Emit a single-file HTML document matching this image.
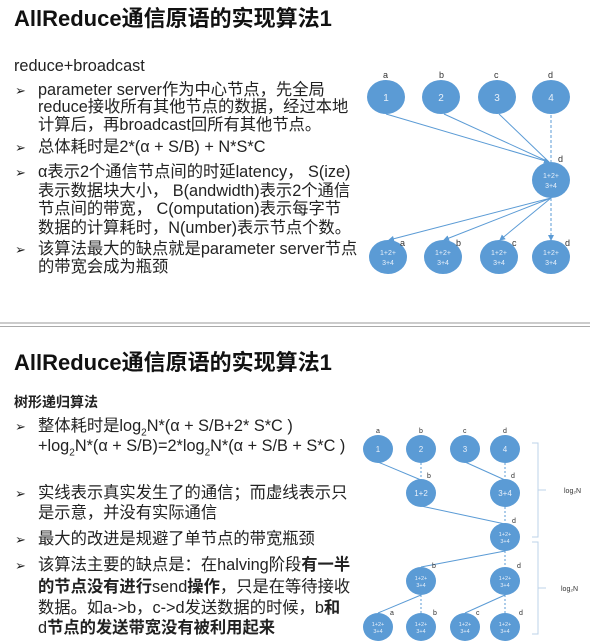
<!DOCTYPE html>
<html><head><meta charset="utf-8"><style>
body{margin:0;width:590px;height:641px;background:#fff;position:relative;overflow:hidden;font-family:"Liberation Sans","Noto Sans CJK SC",sans-serif;color:#222}
.t{position:absolute;white-space:nowrap;line-height:1;}
.h{font-size:22px;font-weight:bold;color:#111}
.l{font-size:16.3px;}
.a{position:absolute;font-size:13px;}
b{font-weight:bold}
sub{line-height:0}
svg{position:absolute;left:0;top:0}
</style></head><body>
<div class="t h" style="left:14px;top:8px">AllReduce通信原语的实现算法1</div>
<div class="t l" style="left:14px;top:58px">reduce+broadcast</div>
<div class="a" style="left:15px;top:83px">➢</div><div class="t l" style="left:38px;top:82px">parameter server作为中心节点，先全局</div>
<div class="t l" style="left:38px;top:99px">reduce接收所有其他节点的数据，经过本地</div>
<div class="t l" style="left:38px;top:117px">计算后，再broadcast回所有其他节点。</div>
<div class="a" style="left:15px;top:140px">➢</div><div class="t l" style="left:38px;top:139px">总体耗时是2*(α + S/B) + N*S*C</div>
<div class="a" style="left:15px;top:165px">➢</div><div class="t l" style="left:38px;top:164px">α表示2个通信节点间的时延latency， S(ize)</div>
<div class="t l" style="left:38px;top:183px">表示数据块大小， B(andwidth)表示2个通信</div>
<div class="t l" style="left:38px;top:201px">节点间的带宽， C(omputation)表示每字节</div>
<div class="t l" style="left:38px;top:220px">数据的计算耗时，N(umber)表示节点个数。</div>
<div class="a" style="left:15px;top:242px">➢</div><div class="t l" style="left:38px;top:241px">该算法最大的缺点就是parameter server节点</div>
<div class="t l" style="left:38px;top:259px">的带宽会成为瓶颈</div>

<div style="position:absolute;left:0;top:322px;width:590px;height:2px;background:#ccc"></div>
<div style="position:absolute;left:0;top:326px;width:590px;height:1px;background:#aaa"></div>

<div class="t h" style="left:14px;top:352px">AllReduce通信原语的实现算法1</div>
<div class="t" style="left:14px;top:395px;font-size:14px;font-weight:bold">树形递归算法</div>
<div class="a" style="left:15px;top:419px">➢</div><div class="t l" style="left:38px;top:418px">整体耗时是log<sub style="font-size:10px">2</sub>N*(α + S/B+2* S*C )</div>
<div class="t l" style="left:38px;top:438px">+log<sub style="font-size:10px">2</sub>N*(α + S/B)=2*log<sub style="font-size:10px">2</sub>N*(α + S/B + S*C )</div>
<div class="a" style="left:15px;top:486px">➢</div><div class="t l" style="left:38px;top:485px">实线表示真实发生了的通信；而虚线表示只</div>
<div class="t l" style="left:38px;top:505px">是示意，并没有实际通信</div>
<div class="a" style="left:15px;top:532px">➢</div><div class="t l" style="left:38px;top:531px">最大的改进是规避了单节点的带宽瓶颈</div>
<div class="a" style="left:15px;top:558px">➢</div><div class="t l" style="left:38px;top:557px">该算法主要的缺点是：在halving阶段<b>有一半</b></div>
<div class="t l" style="left:38px;top:579px"><b>的节点没有进行</b>send<b>操作</b>，只是在等待接收</div>
<div class="t l" style="left:38px;top:600px">数据。如a-&gt;b，c-&gt;d发送数据的时候，b<b>和</b></div>
<div class="t l" style="left:38px;top:620px">d<b>节点的发送带宽没有被利用起来</b></div>

<svg width="590" height="641" font-family="Liberation Sans,sans-serif">
<defs><marker id="ar" markerWidth="6" markerHeight="6" refX="5" refY="3" orient="auto"><path d="M0,0L6,3L0,6z" fill="#5b9bd5"/></marker></defs>
<g stroke="#5b9bd5" stroke-width="1" fill="none">
<line x1="386" y1="114" x2="549" y2="162" marker-end="url(#ar)"/>
<line x1="444" y1="114" x2="549" y2="162"/>
<line x1="499" y1="114" x2="549" y2="162"/>
<line x1="551" y1="115" x2="551" y2="162" stroke-dasharray="3,2"/>
<line x1="551" y1="198" x2="389" y2="240" marker-end="url(#ar)"/>
<line x1="551" y1="198" x2="444" y2="240" marker-end="url(#ar)"/>
<line x1="551" y1="198" x2="500" y2="240" marker-end="url(#ar)"/>
<line x1="551" y1="198" x2="551" y2="240" stroke-dasharray="3,2" marker-end="url(#ar)"/>
<line x1="378" y1="462" x2="421" y2="480"/>
<line x1="421" y1="463" x2="421" y2="480" stroke-dasharray="2,2"/>
<line x1="465" y1="462" x2="505" y2="480"/>
<line x1="505" y1="463" x2="505" y2="480" stroke-dasharray="2,2"/>
<line x1="421" y1="506" x2="505" y2="524"/>
<line x1="505" y1="507" x2="505" y2="524" stroke-dasharray="2,2"/>
<line x1="505" y1="551" x2="421" y2="567"/>
<line x1="505" y1="551" x2="505" y2="567" stroke-dasharray="2,2"/>
<line x1="421" y1="595" x2="378" y2="613"/>
<line x1="421" y1="595" x2="421" y2="613" stroke-dasharray="2,2"/>
<line x1="505" y1="595" x2="465" y2="613"/>
<line x1="505" y1="595" x2="505" y2="613" stroke-dasharray="2,2"/>
</g>
<g stroke="#bcd3ea" fill="none">
<path d="M532,443 H538 V537 H532 M538,490 H546"/>
<path d="M532,542 H538 V634 H532 M538,588 H546"/>
</g>
<g fill="#5b9bd5">
<ellipse cx="386" cy="97" rx="19" ry="17"/><ellipse cx="441" cy="97" rx="19" ry="17"/>
<ellipse cx="497" cy="97" rx="19" ry="17"/><ellipse cx="551" cy="97" rx="19" ry="17"/>
<ellipse cx="551" cy="180" rx="19" ry="18"/>
<ellipse cx="388" cy="257" rx="19" ry="17"/><ellipse cx="443" cy="257" rx="19" ry="17"/>
<ellipse cx="499" cy="257" rx="19" ry="17"/><ellipse cx="551" cy="257" rx="19" ry="17"/>
<ellipse cx="378" cy="449" rx="15" ry="14"/><ellipse cx="421" cy="449" rx="15" ry="14"/>
<ellipse cx="465" cy="449" rx="15" ry="14"/><ellipse cx="505" cy="449" rx="15" ry="14"/>
<ellipse cx="421" cy="493" rx="15" ry="14"/><ellipse cx="505" cy="493" rx="15" ry="14"/>
<ellipse cx="505" cy="537" rx="15" ry="14"/>
<ellipse cx="421" cy="581" rx="15" ry="14"/><ellipse cx="505" cy="581" rx="15" ry="14"/>
<ellipse cx="378" cy="627" rx="15" ry="14"/><ellipse cx="421" cy="627" rx="15" ry="14"/>
<ellipse cx="465" cy="627" rx="15" ry="14"/><ellipse cx="505" cy="627" rx="15" ry="14"/>
</g>
<g fill="#e8f0fa" font-size="10" text-anchor="middle">
<text x="386" y="101">1</text><text x="441" y="101">2</text><text x="497" y="101">3</text><text x="551" y="101">4</text>
<g font-size="7"><text x="551" y="178">1+2+</text><text x="551" y="188">3+4</text>
<text x="388" y="255">1+2+</text><text x="388" y="265">3+4</text>
<text x="443" y="255">1+2+</text><text x="443" y="265">3+4</text>
<text x="499" y="255">1+2+</text><text x="499" y="265">3+4</text>
<text x="551" y="255">1+2+</text><text x="551" y="265">3+4</text></g>
<g font-size="8"><text x="378" y="452">1</text><text x="421" y="452">2</text><text x="465" y="452">3</text><text x="505" y="452">4</text>
<text x="421" y="496">1+2</text><text x="505" y="496">3+4</text></g>
<g font-size="5.5">
<text x="505" y="536">1+2+</text><text x="505" y="543">3+4</text>
<text x="421" y="580">1+2+</text><text x="421" y="587">3+4</text>
<text x="505" y="580">1+2+</text><text x="505" y="587">3+4</text>
<text x="378" y="626">1+2+</text><text x="378" y="633">3+4</text>
<text x="421" y="626">1+2+</text><text x="421" y="633">3+4</text>
<text x="465" y="626">1+2+</text><text x="465" y="633">3+4</text>
<text x="505" y="626">1+2+</text><text x="505" y="633">3+4</text></g>
</g>
<g fill="#333" font-size="9">
<text x="383" y="78">a</text><text x="439" y="78">b</text><text x="494" y="78">c</text><text x="548" y="78">d</text>
<text x="558" y="162">d</text>
<text x="400" y="246">a</text><text x="456" y="246">b</text><text x="512" y="246">c</text><text x="565" y="246">d</text>
<g font-size="7"><text x="376" y="433">a</text><text x="419" y="433">b</text><text x="463" y="433">c</text><text x="503" y="433">d</text>
<text x="427" y="478">b</text><text x="511" y="478">d</text><text x="512" y="523">d</text>
<text x="432" y="568">b</text><text x="517" y="568">d</text>
<text x="390" y="615">a</text><text x="433" y="615">b</text><text x="476" y="615">c</text><text x="519" y="615">d</text>
<text x="564" y="493">log₂N</text><text x="561" y="591">log₂N</text></g>
</g>
</svg>
</body></html>
